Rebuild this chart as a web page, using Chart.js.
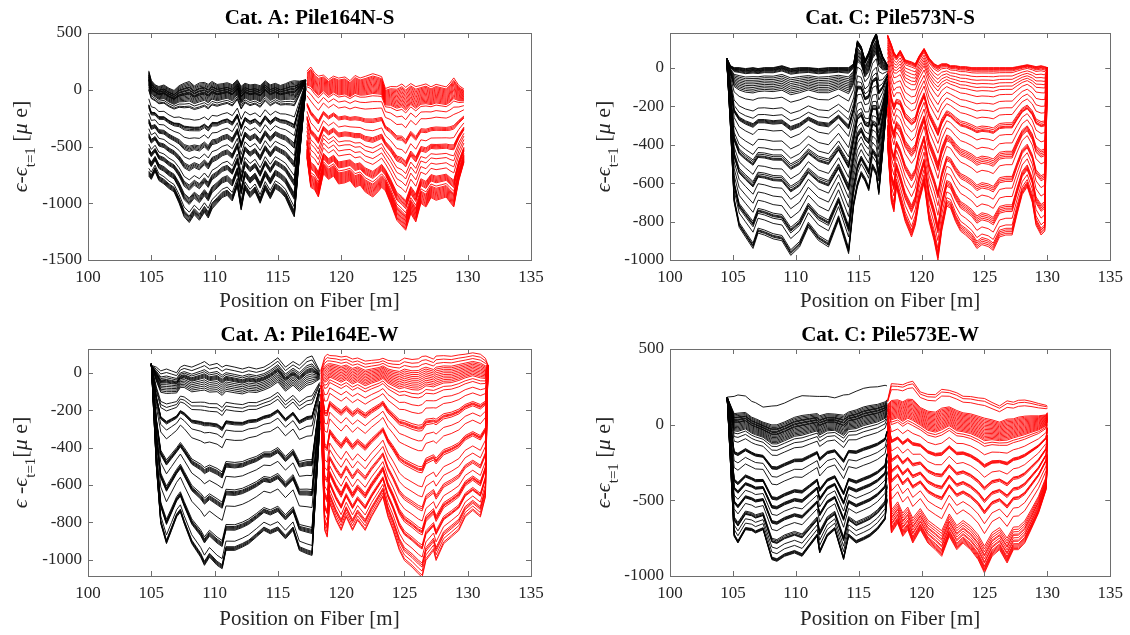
<!DOCTYPE html>
<html>
<head>
<meta charset="utf-8">
<script src="https://cdn.jsdelivr.net/npm/chart.js@4.4.0/dist/chart.umd.min.js"></script>
<style>
  body { margin: 0; background: #fff; width: 1130px; height: 635px; position: relative; overflow: hidden; }
  canvas { position: absolute; }
</style>
</head>
<body>
<canvas id="pA1" width="565" height="317" style="left:0;top:0;width:565px;height:317px"></canvas>
<canvas id="pC1" width="565" height="317" style="left:565px;top:0;width:565px;height:317px"></canvas>
<canvas id="pA2" width="565" height="318" style="left:0;top:317px;width:565px;height:318px"></canvas>
<canvas id="pC2" width="565" height="318" style="left:565px;top:317px;width:565px;height:318px"></canvas>
<script>
// ---- axes ----
const xTicks = [100, 105, 110, 115, 120, 125, 130, 135];
const yTicksA1 = [-1500, -1000, -500, 0, 500];
const yTicksC1 = [-1000, -800, -600, -400, -200, 0];
const yTicksA2 = [-1000, -800, -600, -400, -200, 0];
const yTicksC2 = [-1000, -500, 0, 500];

// ---- Cat. A: Pile164N-S ----
// each segment: positions, upper (near zero) profile, deepest profile,
// and where every trace sits between the two (0 = upper, 1 = deepest)
const a1BlackX    = [104.8, 105.0, 105.3, 105.6, 106.0, 106.4, 106.8, 107.2, 107.6, 108.0, 108.4, 108.8, 109.2, 109.5, 109.8, 110.2, 110.6, 111.0, 111.4, 111.8, 112.1, 112.4, 112.8, 113.2, 113.6, 114.0, 114.4, 114.8, 115.2, 115.6, 116.0, 116.3, 116.7, 117.2];
const a1BlackTop  = [90, 10, -20, -40, -30, -60, -80, -50, -40, -30, -60, -40, -30, -50, -20, -40, -30, -20, -40, 10, -60, -20, -40, -30, -50, 0, -40, -20, -40, -30, -20, -20, 20, 80];
const a1BlackDeep = [-760, -790, -720, -800, -830, -870, -900, -1000, -1120, -1170, -1100, -1150, -1080, -1130, -1050, -1000, -950, -930, -980, -850, -1060, -880, -950, -900, -1000, -880, -960, -870, -900, -950, -1050, -1120, -600, 0];
const a1BlackLevels = [-0.09, -0.08, -0.07, -0.06, -0.05, -0.045, -0.04, -0.03, -0.025, -0.02, -0.01, -0.005, 0, 0.005, 0.01, 0.02, 0.03, 0.04, 0.05, 0.06, 0.08, 0.1, 0.11, 0.2, 0.26, 0.265, 0.27, 0.28, 0.29, 0.35, 0.41, 0.42, 0.43, 0.44, 0.45, 0.51, 0.56, 0.57, 0.58, 0.59, 0.6, 0.67, 0.71, 0.72, 0.73, 0.74, 0.75, 0.81, 0.82, 0.83, 0.84, 0.85, 0.86, 0.92, 0.95, 0.96, 0.97, 0.98, 0.99, 1.0];

const a1RedX    = [117.3, 117.6, 117.9, 118.2, 118.6, 119.0, 119.4, 119.8, 120.3, 120.7, 121.1, 121.5, 121.9, 122.5, 122.9, 123.2, 123.5, 123.9, 124.4, 124.8, 125.1, 125.5, 125.9, 126.3, 126.7, 127.1, 127.5, 127.9, 128.3, 128.6, 128.9, 129.3, 129.7];
const a1RedTop  = [120, 140, 90, 60, 80, 40, 70, 50, 60, 30, 70, 50, 60, 80, 70, 60, -40, -30, -40, -20, -50, -10, -40, -20, -10, -30, -10, -20, -30, 0, 40, -10, -30];
const a1RedDeep = [-600, -860, -880, -945, -740, -790, -760, -830, -820, -800, -860, -840, -900, -945, -900, -860, -890, -1000, -1150, -1200, -1238, -1091, -1165, -1000, -1033, -950, -974, -960, -945, -990, -1033, -798, -640];
const a1RedLevels = [-0.06, -0.04, -0.03, -0.02, -0.01, 0, 0.01, 0.02, 0.03, 0.04, 0.05, 0.06, 0.07, 0.08, 0.09, 0.1, 0.11, 0.13, 0.18, 0.24, 0.33, 0.34, 0.35, 0.36, 0.43, 0.49, 0.5, 0.51, 0.52, 0.53, 0.58, 0.62, 0.67, 0.72, 0.78, 0.79, 0.8, 0.81, 0.82, 0.83, 0.84, 0.87, 0.89, 0.9, 0.91, 0.92, 0.93, 0.94, 0.95, 0.96, 0.97, 0.98, 0.99, 1.0];

// ---- Cat. C: Pile573N-S ----
const c1BlackX    = [104.5, 104.8, 105.1, 105.5, 106.0, 106.6, 107.0, 107.5, 108.2, 108.9, 109.6, 110.3, 111.0, 111.8, 112.6, 113.4, 114.2, 114.6, 114.9, 115.2, 115.5, 115.8, 116.1, 116.4, 116.6, 116.9, 117.3];
const c1BlackTop  = [50, 10, 0, 0, -5, 0, -5, 0, 0, 10, -5, 0, 0, -5, 0, 0, 0, 20, 140, 110, 40, 80, 140, 180, 120, 60, 10];
const c1BlackDeep = [50, -300, -700, -830, -880, -940, -860, -870, -890, -900, -976, -932, -829, -898, -932, -794, -967, -720, -620, -560, -590, -640, -520, -560, -660, -450, -150];
const c1BlackLevels = [0, 0.003, 0.006, 0.01, 0.013, 0.016, 0.02, 0.025, 0.03, 0.05, 0.06, 0.07, 0.08, 0.09, 0.1, 0.11, 0.12, 0.13, 0.14, 0.18, 0.24, 0.28, 0.31, 0.315, 0.32, 0.325, 0.33, 0.37, 0.43, 0.48, 0.51, 0.52, 0.53, 0.535, 0.54, 0.59, 0.63, 0.64, 0.65, 0.655, 0.66, 0.7, 0.75, 0.8, 0.85, 0.86, 0.865, 0.87, 0.88, 0.91, 0.97, 0.98, 0.985, 0.99, 1.0];

const c1RedX    = [117.3, 117.6, 117.8, 118.0, 118.3, 118.7, 119.2, 119.5, 119.8, 120.2, 120.6, 121.0, 121.3, 121.6, 122.0, 122.3, 122.7, 123.1, 123.5, 124.0, 124.4, 124.8, 125.3, 125.7, 126.2, 126.7, 127.2, 127.6, 128.0, 128.4, 128.8, 129.1, 129.5, 129.8, 130.0];
const c1RedTop  = [170, 120, 80, 60, 90, 40, 30, 20, 60, 100, 50, 20, 10, 20, 20, 10, 10, 5, 5, 0, 0, 0, 0, 0, 0, 0, 0, 5, 10, 15, 10, 5, 10, 5, 0];
const c1RedDeep = [-400, -700, -750, -620, -700, -800, -880, -820, -700, -600, -800, -900, -1000, -850, -720, -730, -800, -850, -870, -900, -940, -920, -930, -950, -880, -870, -870, -760, -660, -620, -700, -820, -870, -850, 0];
const c1RedLevels = [0, 0.003, 0.006, 0.01, 0.014, 0.02, 0.03, 0.05, 0.07, 0.09, 0.11, 0.13, 0.16, 0.2, 0.24, 0.28, 0.33, 0.34, 0.35, 0.355, 0.36, 0.4, 0.45, 0.5, 0.51, 0.52, 0.53, 0.54, 0.58, 0.65, 0.66, 0.67, 0.68, 0.72, 0.77, 0.82, 0.83, 0.84, 0.85, 0.86, 0.9, 0.94, 0.96, 0.97, 0.98, 0.99, 1.0];

// ---- Cat. A: Pile164E-W ----
const a2BlackX    = [105.0, 105.4, 105.75, 106.2, 106.6, 107.0, 107.3, 107.6, 108.2, 108.9, 109.2, 109.6, 110.2, 110.6, 110.9, 111.6, 112.2, 112.7, 113.3, 113.9, 114.4, 115.0, 115.6, 116.2, 116.7, 117.3, 117.7, 118.3];
const a2BlackTop  = [40, 30, 10, 20, 10, 0, 30, 40, 30, 50, 60, 40, 50, 30, 40, 30, 20, 30, 20, 30, 50, 80, 30, 60, 40, 80, 90, 10];
const a2BlackDeep = [50, -500, -807, -914, -843, -771, -745, -807, -914, -986, -1030, -986, -1030, -1048, -950, -950, -932, -914, -879, -843, -861, -843, -888, -843, -950, -968, -977, -300];
const a2BlackLevels = [0, 0.02, 0.04, 0.05, 0.06, 0.065, 0.07, 0.075, 0.08, 0.09, 0.1, 0.11, 0.12, 0.13, 0.14, 0.2, 0.22, 0.24, 0.3, 0.303, 0.306, 0.31, 0.315, 0.35, 0.4, 0.52, 0.53, 0.535, 0.54, 0.545, 0.55, 0.6, 0.67, 0.68, 0.685, 0.69, 0.695, 0.7, 0.76, 0.86, 0.87, 0.875, 0.88, 0.885, 0.89, 0.95, 0.98, 0.985, 0.99, 0.995, 1.0];

const a2RedX    = [118.4, 118.7, 118.9, 119.1, 119.6, 120.0, 120.4, 120.9, 121.3, 121.9, 122.4, 123.0, 123.3, 123.7, 124.1, 124.6, 125.0, 125.6, 126.1, 126.4, 126.7, 127.3, 127.5, 128.1, 128.7, 129.3, 129.8, 130.4, 131.0, 131.4, 131.6];
const a2RedTop  = [-10, 0, 10, 20, 10, 0, 10, -10, 0, -20, -10, 0, 10, -10, -20, -30, -20, -30, -30, -20, -10, -20, -10, 0, 0, 10, 20, 30, 20, 10, 40];
const a2RedDeep = [-236, -843, -879, -700, -789, -843, -771, -843, -789, -843, -771, -700, -664, -771, -843, -950, -1004, -1039, -1075, -1093, -1004, -950, -1004, -914, -879, -843, -771, -736, -771, -664, 30];
const a2RedLevels = [-0.1, -0.08, -0.06, -0.04, -0.03, -0.02, -0.01, 0, 0.01, 0.02, 0.03, 0.04, 0.05, 0.06, 0.08, 0.1, 0.14, 0.18, 0.24, 0.25, 0.255, 0.26, 0.27, 0.32, 0.37, 0.45, 0.46, 0.465, 0.47, 0.48, 0.55, 0.6, 0.65, 0.66, 0.67, 0.72, 0.76, 0.77, 0.775, 0.78, 0.79, 0.84, 0.85, 0.855, 0.86, 0.9, 0.93, 0.94, 0.95, 0.97, 0.99, 1.0];

// ---- Cat. C: Pile573E-W ----
const c2BlackX    = [104.55, 105.1, 105.4, 106.0, 106.5, 106.8, 107.4, 108.1, 108.5, 109.1, 109.9, 110.5, 111.1, 111.7, 111.9, 112.5, 113.1, 113.8, 114.2, 114.8, 115.4, 115.9, 116.5, 117.1, 117.25];
const c2BlackTop  = [180, 20, 20, 30, 0, -10, -30, -60, -60, -40, -10, 0, 10, 20, 0, 20, 20, 0, 30, 40, 60, 70, 80, 100, 120];
const c2BlackDeep = [170, -738, -782, -694, -700, -716, -694, -892, -903, -870, -848, -870, -804, -738, -848, -738, -694, -892, -738, -782, -760, -738, -694, -628, -500];
const c2BlackLevels = [-0.22, -0.07, -0.06, -0.05, -0.04, -0.035, -0.03, -0.02, -0.015, -0.01, 0, 0.005, 0.01, 0.02, 0.03, 0.04, 0.05, 0.06, 0.07, 0.08, 0.1, 0.13, 0.17, 0.26, 0.265, 0.27, 0.275, 0.28, 0.34, 0.4, 0.5, 0.505, 0.51, 0.515, 0.52, 0.57, 0.575, 0.58, 0.585, 0.59, 0.64, 0.69, 0.695, 0.7, 0.705, 0.71, 0.76, 0.83, 0.84, 0.85, 0.855, 0.86, 0.9, 0.94, 0.98, 0.985, 0.99, 0.995, 1.0];

const c2RedX    = [117.3, 117.6, 118.1, 118.5, 118.9, 119.3, 119.9, 120.5, 121.1, 121.6, 122.2, 122.8, 123.3, 123.9, 124.5, 125.0, 125.6, 126.2, 126.8, 127.3, 127.7, 128.2, 128.7, 129.3, 129.9, 130.0];
const c2RedTop  = [110, 80, 90, 70, 90, 80, 40, 10, 0, 20, 40, 10, 0, -10, -30, -50, -50, -60, -50, -40, -30, -20, -10, 0, 20, 50];
const c2RedDeep = [-100, -716, -651, -738, -694, -782, -694, -782, -826, -870, -738, -826, -782, -826, -892, -980, -870, -826, -914, -826, -826, -782, -694, -584, -430, -250];
const c2RedLevels = [-0.24, -0.22, -0.19, -0.1, -0.09, -0.08, -0.07, -0.06, -0.05, -0.04, -0.03, -0.02, -0.01, 0, 0.01, 0.02, 0.03, 0.04, 0.05, 0.06, 0.08, 0.1, 0.16, 0.23, 0.235, 0.24, 0.245, 0.25, 0.32, 0.39, 0.395, 0.4, 0.41, 0.48, 0.485, 0.49, 0.5, 0.56, 0.565, 0.57, 0.58, 0.65, 0.72, 0.81, 0.83, 0.85, 0.87, 0.88, 0.9, 0.92, 0.93, 0.95, 0.96, 0.97, 0.98, 0.99, 1.0];

const SERIF = "'Liberation Serif', 'Times New Roman', 'DejaVu Serif', serif";
const TXT = '#262626';
const FRAME = '#6e6e6e';

// one dataset per measured trace
function bundle(xs, top, deep, levels, color) {
    return levels.map(f => ({
        data: xs.map((x, i) => ({ x: x, y: top[i] + f * (deep[i] - top[i]) })),
        borderColor: color,
        borderWidth: 0.9,
        pointRadius: 0,
        fill: false,
        tension: 0
    }));
}

// ylabel: eps - eps_{t=1} [mu e], drawn rotated with a real subscript
function drawYLabel(ctx, cx, cy, spaced) {
    const big = '22px ' + SERIF, bigIt = 'italic 22px ' + SERIF, sub = '15px ' + SERIF;
    const parts = spaced
        ? [['ϵ', bigIt, 0], [' -', big, 0], ['ϵ', bigIt, 0], ['t=1', sub, 8], ['[', big, 0], ['μ', bigIt, 0], [' e]', big, 0]]
        : [['ϵ', bigIt, 0], ['-', big, 0], ['ϵ', bigIt, 0], ['t=1', sub, 8], [' [', big, 0], ['μ', bigIt, 0], [' e]', big, 0]];
    ctx.save();
    ctx.translate(cx, cy);
    ctx.rotate(-Math.PI / 2);
    ctx.fillStyle = TXT;
    ctx.textBaseline = 'alphabetic';
    ctx.textAlign = 'left';
    let w = 0;
    parts.forEach(p => { ctx.font = p[1]; w += ctx.measureText(p[0]).width; });
    let x = -w / 2;
    parts.forEach(p => {
        ctx.font = p[1];
        ctx.fillText(p[0], x, p[2]);
        x += ctx.measureText(p[0]).width;
    });
    ctx.restore();
}

const matlabAxes = {
    id: 'matlabAxes',
    afterDraw(chart, args, o) {
        const { ctx, chartArea: a } = chart;
        const sx = chart.scales.x, sy = chart.scales.y;
        ctx.save();
        ctx.strokeStyle = FRAME;
        ctx.lineWidth = 1;
        ctx.strokeRect(Math.round(a.left) + 0.5, Math.round(a.top) + 0.5, Math.round(a.right - a.left), Math.round(a.bottom - a.top));
        // inward ticks on all four sides, like MATLAB's box on
        ctx.beginPath();
        xTicks.forEach(v => {
            const p = Math.round(sx.getPixelForValue(v)) + 0.5;
            ctx.moveTo(p, a.bottom); ctx.lineTo(p, a.bottom - 5);
            ctx.moveTo(p, a.top); ctx.lineTo(p, a.top + 5);
        });
        o.yTicks.forEach(v => {
            const p = Math.round(sy.getPixelForValue(v)) + 0.5;
            ctx.moveTo(a.left, p); ctx.lineTo(a.left + 5, p);
            ctx.moveTo(a.right, p); ctx.lineTo(a.right - 5, p);
        });
        ctx.stroke();

        const mid = (a.left + a.right) / 2;
        ctx.fillStyle = '#000';
        ctx.textAlign = 'center';
        ctx.textBaseline = 'alphabetic';
        ctx.font = 'bold 21px ' + SERIF;
        ctx.fillText(o.title, mid, o.titleY);

        ctx.fillStyle = TXT;
        ctx.font = '21px ' + SERIF;
        ctx.fillText('Position on Fiber [m]', mid, o.xlabelY);
        ctx.restore();

        drawYLabel(ctx, o.ylabelX, (a.top + a.bottom) / 2, o.spaced);
    }
};

function makePanel(id, p) {
    const tickFont = { family: SERIF, size: 17 };
    return new Chart(document.getElementById(id), {
        type: 'line',
        data: {
            datasets: [
                ...bundle(p.bx, p.bt, p.bd, p.bl, '#000000'),
                ...bundle(p.rx, p.rt, p.rd, p.rl, '#ff0000')
            ]
        },
        options: {
            responsive: false,
            animation: false,
            devicePixelRatio: 1,
            events: [],
            layout: { padding: { left: 0, top: p.padTop, right: p.padRight, bottom: 0 } },
            plugins: {
                legend: { display: false },
                tooltip: { enabled: false },
                title: { display: false },
                matlabAxes: {
                    title: p.title, titleY: p.titleY, xlabelY: p.xlabelY,
                    ylabelX: p.ylabelX, yTicks: p.yTicks, spaced: p.spaced
                }
            },
            scales: {
                x: {
                    type: 'linear', min: 100, max: 135,
                    afterBuildTicks: s => { s.ticks = xTicks.map(v => ({ value: v })); },
                    afterFit: s => { s.height = p.xHeight; },
                    grid: { display: false, drawTicks: false },
                    border: { display: false },
                    ticks: { padding: 7, font: tickFont, color: TXT, maxRotation: 0, autoSkip: false, callback: v => String(v) }
                },
                y: {
                    type: 'linear', min: p.yMin, max: p.yMax,
                    afterBuildTicks: s => { s.ticks = p.yTicks.map(v => ({ value: v })); },
                    afterFit: s => { s.width = p.yWidth; },
                    grid: { display: false, drawTicks: false },
                    border: { display: false },
                    ticks: { padding: 6, font: tickFont, color: TXT, autoSkip: false, callback: v => String(v) }
                }
            }
        },
        plugins: [matlabAxes]
    });
}

makePanel('pA1', {
    title: 'Cat. A: Pile164N-S', titleY: 24, xlabelY: 307, ylabelX: 27, spaced: false,
    padTop: 33, padRight: 34, yWidth: 88, xHeight: 57,
    yMin: -1500, yMax: 500, yTicks: yTicksA1,
    bx: a1BlackX, bt: a1BlackTop, bd: a1BlackDeep, bl: a1BlackLevels,
    rx: a1RedX, rt: a1RedTop, rd: a1RedDeep, rl: a1RedLevels
});
makePanel('pC1', {
    title: 'Cat. C: Pile573N-S', titleY: 24, xlabelY: 307, ylabelX: 45, spaced: false,
    padTop: 33, padRight: 17, yWidth: 105, xHeight: 57,
    yMin: -1000, yMax: 180, yTicks: yTicksC1,
    bx: c1BlackX, bt: c1BlackTop, bd: c1BlackDeep, bl: c1BlackLevels,
    rx: c1RedX, rt: c1RedTop, rd: c1RedDeep, rl: c1RedLevels
});
makePanel('pA2', {
    title: 'Cat. A: Pile164E-W', titleY: 24, xlabelY: 308, ylabelX: 27, spaced: true,
    padTop: 32, padRight: 34, yWidth: 88, xHeight: 59,
    yMin: -1087, yMax: 127, yTicks: yTicksA2,
    bx: a2BlackX, bt: a2BlackTop, bd: a2BlackDeep, bl: a2BlackLevels,
    rx: a2RedX, rt: a2RedTop, rd: a2RedDeep, rl: a2RedLevels
});
makePanel('pC2', {
    title: 'Cat. C: Pile573E-W', titleY: 24, xlabelY: 308, ylabelX: 45, spaced: false,
    padTop: 32, padRight: 17, yWidth: 105, xHeight: 59,
    yMin: -1000, yMax: 500, yTicks: yTicksC2,
    bx: c2BlackX, bt: c2BlackTop, bd: c2BlackDeep, bl: c2BlackLevels,
    rx: c2RedX, rt: c2RedTop, rd: c2RedDeep, rl: c2RedLevels
});
</script>
</body>
</html>
